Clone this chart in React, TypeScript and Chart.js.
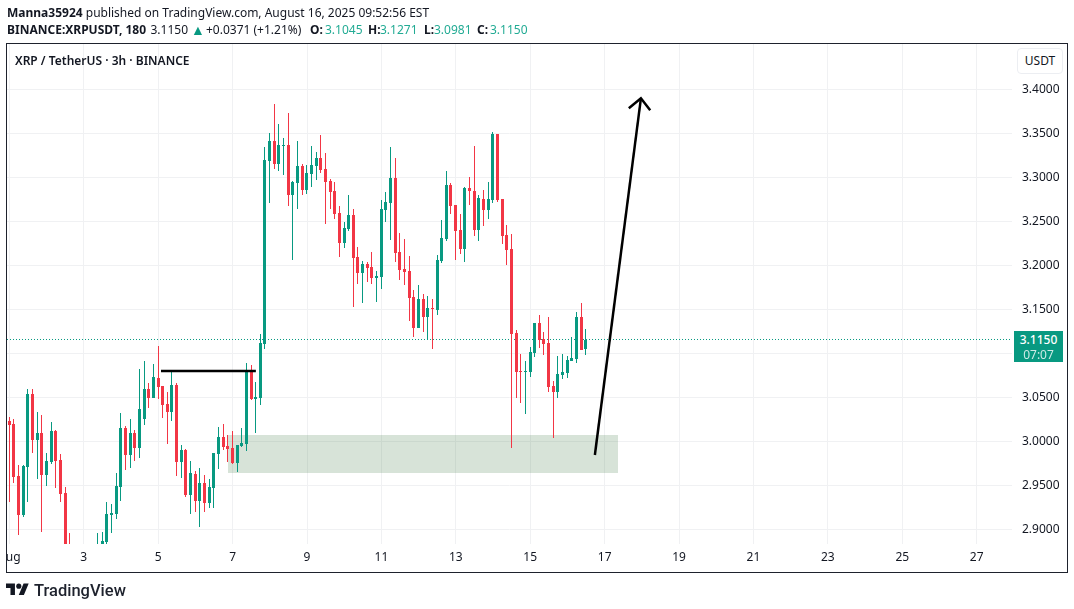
import { useEffect, useRef } from 'react'
import { Chart, registerables } from 'chart.js'

Chart.register(...registerables)

const FONT = '"Noto Sans", sans-serif'
const UP = '#089981'
const DOWN = '#F23645'

// 3h candles, index 0 is Aug 1. 14-18 sit below the visible window.
const opens = [
  3.0231, 3.0197, 2.9606, 2.9167, 2.9712, 3.0538, 3.0015, 3.0095, 2.9617, 2.9769,
  3.0117, 2.9788, 2.9413, 2.878, 2.86, 2.855, 2.86, 2.85, 2.855, 2.86,
  2.87, 2.886, 2.9163, 2.9174, 2.9481, 3.0152, 2.9844, 3.0094, 2.9928, 3.0253,
  3.0594, 3.0492, 3.0719, 3.0628, 3.0424, 3.0333, 3.064, 2.9765, 2.9901, 2.939,
  2.9628, 2.9321, 2.9526, 2.9299, 2.9469, 2.9856, 3.0049, 2.9946, 2.9924, 2.9753,
  2.9946, 2.9969, 3.0799, 3.0481, 3.0495, 3.1106, 3.3185, 3.3412, 3.3151, 3.3356,
  3.3367, 3.2799, 3.2935, 3.3128, 3.2856, 3.3037, 3.3128, 3.3219, 3.3094, 3.2958,
  3.2844, 3.2594, 3.2253, 3.2412, 3.2572, 3.2094, 3.1912, 3.2015, 3.1981, 3.1856,
  3.1867, 3.2629, 3.2708, 3.2992, 3.2151, 3.1958, 3.1935, 3.164, 3.1288, 3.1617,
  3.1412, 3.1515, 3.1492, 3.2049, 3.2299, 3.2912, 3.2685, 3.2401, 3.2185, 3.2878,
  3.2844, 3.2401, 3.2753, 3.2628, 3.2742, 3.3492, 3.2753, 3.2344, 3.2185, 3.123,
  3.0798, 3.0787, 3.0787, 3.1003, 3.1344, 3.1162, 3.1117, 3.0628, 3.056, 3.0753,
  3.0776, 3.0912, 3.0935, 3.1412, 3.1045,
]
const highs = [
  3.028, 3.0254, 2.9731, 2.9731, 3.0595, 3.0595, 3.0333, 3.0299, 2.9867, 3.022,
  3.0129, 2.9856, 2.9481, 2.8958, 2.87, 2.865, 2.87, 2.86, 2.865, 2.8958,
  2.897, 2.9311, 2.9288, 2.964, 3.0322, 3.0174, 3.0253, 3.0128, 3.0821, 3.0912,
  3.0659, 3.0878, 3.1083, 3.0628, 3.056, 3.081, 3.0662, 2.9958, 2.9912, 2.9776,
  2.9662, 2.9696, 2.9617, 2.9571, 2.9867, 3.0162, 3.0196, 3.0071, 3.0117, 2.9962,
  3.0151, 3.089, 3.0867, 3.0674, 3.1216, 3.3344, 3.3503, 3.3833, 3.3606, 3.3447,
  3.3731, 3.2958, 3.3412, 3.3151, 3.314, 3.3356, 3.3287, 3.3481, 3.3276, 3.2981,
  3.2947, 3.2674, 3.2492, 3.2799, 3.264, 3.2208, 3.2049, 3.2037, 3.2151, 3.1935,
  3.2742, 3.2833, 3.3344, 3.3219, 3.2367, 3.2299, 3.2106, 3.1719, 3.1776, 3.1674,
  3.1651, 3.1617, 3.2117, 3.2515, 3.3072, 3.2935, 3.2685, 3.2583, 3.289, 3.3003,
  3.3356, 3.2799, 3.2855, 3.2946, 3.3515, 3.3492, 3.2753, 3.2458, 3.2356, 3.1265,
  3.0992, 3.0912, 3.1071, 3.1344, 3.1435, 3.1242, 3.1412, 3.0685, 3.0969, 3.0992,
  3.0969, 3.1185, 3.1469, 3.1571, 3.1271,
]
const lows = [
  2.9314, 2.953, 2.8936, 2.9144, 2.9314, 2.9871, 2.9572, 2.8973, 2.9492, 2.9746,
  2.9473, 2.9314, 2.85, 2.85, 2.84, 2.84, 2.84, 2.835, 2.84, 2.85,
  2.86, 2.8833, 2.8958, 2.9117, 2.9322, 2.9674, 2.9693, 2.978, 2.981, 3.0185,
  3.0378, 3.0492, 3.0481, 3.0265, 2.9969, 3.0231, 2.9606, 2.9583, 2.9367, 2.9174,
  2.9196, 2.9026, 2.9196, 2.9242, 2.9242, 2.9685, 2.9901, 2.9765, 2.9742, 2.9651,
  2.9935, 2.989, 3.0469, 3.0094, 3.0413, 3.1049, 3.2708, 3.3094, 3.3072, 3.3026,
  3.2674, 3.206, 3.264, 3.2799, 3.281, 3.289, 3.2969, 3.3049, 3.2469, 3.264,
  3.2526, 3.2094, 3.2197, 3.239, 3.1526, 3.1787, 3.1571, 3.181, 3.1787, 3.1583,
  3.1731, 3.2492, 3.2287, 3.2037, 3.1833, 3.1776, 3.1367, 3.1185, 3.1288, 3.1242,
  3.1151, 3.1049, 3.1435, 3.2026, 3.2276, 3.2583, 3.206, 3.2128, 3.2037, 3.2685,
  3.2333, 3.2276, 3.2446, 3.2526, 3.2708, 3.2719, 3.2242, 3.2003, 2.9924, 3.0492,
  3.0435, 3.031, 3.073, 3.0958, 3.106, 3.0981, 3.056, 3.0037, 3.0492, 3.0708,
  3.0719, 3.0912, 3.089, 3.1037, 3.0981,
]
const closes = [
  3.0186, 2.9599, 2.9167, 2.972, 3.0538, 3.0015, 3.0095, 2.9617, 2.9777, 3.0117,
  2.9777, 2.9405, 2.865, 2.86, 2.85, 2.86, 2.85, 2.855, 2.86, 2.875,
  2.8867, 2.9174, 2.9186, 2.9492, 3.0152, 2.9845, 3.0094, 2.9928, 3.0367, 3.0594,
  3.0492, 3.0731, 3.0617, 3.0412, 3.0333, 3.064, 2.9765, 2.9901, 2.939, 2.964,
  2.9321, 2.9526, 2.9299, 2.9481, 2.9867, 3.0049, 2.9935, 2.9912, 2.9753, 2.9958,
  2.9981, 3.0799, 3.0481, 3.0503, 3.1114, 3.3197, 3.3412, 3.3151, 3.3367, 3.3367,
  3.2799, 3.2947, 3.3128, 3.2856, 3.3049, 3.314, 3.3219, 3.3083, 3.2947, 3.2833,
  3.2583, 3.2253, 3.2424, 3.2572, 3.2083, 3.1912, 3.2015, 3.1969, 3.1856, 3.1878,
  3.264, 3.2719, 3.2992, 3.214, 3.1947, 3.1924, 3.1628, 3.1288, 3.1617, 3.1412,
  3.1515, 3.1503, 3.206, 3.231, 3.2912, 3.2674, 3.239, 3.2185, 3.2878, 3.2844,
  3.2401, 3.2765, 3.2628, 3.2753, 3.3492, 3.2742, 3.2333, 3.2174, 3.1219, 3.0787,
  3.0787, 3.0798, 3.1015, 3.1344, 3.1151, 3.1106, 3.0617, 3.056, 3.0765, 3.0787,
  3.0924, 3.0946, 3.1412, 3.1037, 3.115,
]

const dayIndexes = [0, 16, 32, 48, 64, 80, 96, 112, 128, 144, 160, 176, 192, 208]
const dayLabels = ['Aug', '3', '5', '7', '9', '11', '13', '15', '17', '19', '21', '23', '25', '27']
const priceTicks = [2.9, 2.95, 3.0, 3.05, 3.1, 3.15, 3.2, 3.25, 3.3, 3.35, 3.4]

const lastPriceLine = 3.1157
const hLineX = [32.6, 53.0]
const hLineY = 3.08
const zoneX = [47, 130.9]
const zoneTop = 3.0072
const zoneBottom = 2.964
const arrowShaftX = [125.9, 135.8]
const arrowShaftY = [2.9844, 3.3898]
const arrowHeadX = [133.2, 135.8, 137.8]
const arrowHeadY = [3.3784, 3.3898, 3.3761]

const X_MIN = -0.516
const X_MAX = 215.6
const Y_MIN = 2.8833
const Y_MAX = 3.4515

const toPoints = (xs: number[], ys: number[]) => xs.map((x, i) => ({ x, y: ys[i] }))

// second header row, each piece placed where the reference has it
const quote = [
  { left: 7, text: 'BINANCE:XRPUSDT, 180', bold: true },
  { left: 150.5, text: '3.1150' },
  { left: 206, text: '+0.0371 (+1.21%)' },
  { left: 310, text: 'O:', bold: true },
  { left: 325, text: '3.1045', teal: true },
  { left: 368, text: 'H:', bold: true },
  { left: 380, text: '3.1271', teal: true },
  { left: 424, text: 'L:', bold: true },
  { left: 434, text: '3.0981', teal: true },
  { left: 477, text: 'C:', bold: true },
  { left: 490, text: '3.1150', teal: true },
]

// candles in the reference sit on whole pixels, so snap the bar elements the scales placed
const snapCandles = {
  id: 'snapCandles',
  afterDatasetsUpdate(chart: any) {
    chart.data.datasets.forEach((_: any, d: number) => {
      const meta = chart.getDatasetMeta(d)
      if (meta.type !== 'bar') return
      meta.data.forEach((el: any) => {
        el.x = Math.floor(el.x - 0.2) + 0.5
        el.y = Math.round(el.y)
        el.base = Math.round(el.base)
        if (el.y === el.base) el.base = el.y + 1
      })
    })
  },
}

export default function App() {
  const canvasRef = useRef<HTMLCanvasElement>(null)

  useEffect(() => {
    if (!canvasRef.current) return
    const colors = opens.map((o, i) => (closes[i] >= o ? UP : DOWN))
    const lineBase = { type: 'line' as const, pointRadius: 0, tension: 0, fill: false }

    const chart = new Chart(canvasRef.current, {
      type: 'bar',
      plugins: [snapCandles],
      data: {
        datasets: [
          {
            ...lineBase,
            data: toPoints(zoneX, [zoneTop, zoneTop]),
            borderWidth: 0,
            backgroundColor: 'rgba(82,135,88,0.23)',
            fill: { value: zoneBottom },
            order: 10,
          },
          {
            ...lineBase,
            data: toPoints([X_MIN, X_MAX], [lastPriceLine, lastPriceLine]),
            borderColor: UP,
            borderWidth: 1,
            borderDash: [1, 2],
            order: 9,
          },
          {
            data: opens.map((_, i) => ({ x: i, y: [lows[i], highs[i]] })),
            backgroundColor: colors,
            barThickness: 1,
            inflateAmount: 0,
            grouped: false,
            order: 5,
          },
          {
            data: opens.map((o, i) => ({ x: i, y: [o, closes[i]] })),
            backgroundColor: colors,
            barThickness: 3,
            inflateAmount: 0,
            grouped: false,
            order: 4,
          },
          {
            ...lineBase,
            data: toPoints(hLineX, [hLineY, hLineY]),
            borderColor: '#000000',
            borderWidth: 2.5,
            order: 1,
          },
          {
            ...lineBase,
            data: toPoints(arrowShaftX, arrowShaftY),
            borderColor: '#000000',
            borderWidth: 2.5,
            order: 1,
          },
          {
            ...lineBase,
            data: toPoints(arrowHeadX, arrowHeadY),
            borderColor: '#000000',
            borderWidth: 2.5,
            order: 1,
          },
        ],
      } as any,
      options: {
        responsive: false,
        animation: false,
        layout: { padding: { left: 7, top: 44, right: 7, bottom: 37 } },
        plugins: { legend: { display: false }, tooltip: { enabled: false } },
        scales: {
          x: {
            type: 'linear',
            min: X_MIN,
            max: X_MAX,
            offset: false,
            afterFit: (s: any) => {
              s.height = 28
              s.paddingLeft = 0
              s.paddingRight = 0
            },
            afterBuildTicks: (s: any) => { s.ticks = dayIndexes.map((value) => ({ value })) },
            grid: { color: '#f0f1f3', offset: false, drawTicks: false },
            border: { display: false },
            ticks: {
              autoSkip: false,
              maxRotation: 0,
              padding: 6,
              color: '#131722',
              font: { family: FONT, size: 12 },
              callback: (_v: any, i: number) => dayLabels[i],
            },
          },
          y: {
            type: 'linear',
            position: 'right',
            min: Y_MIN,
            max: Y_MAX,
            afterFit: (s: any) => {
              s.width = 55
              s.paddingTop = 0
              s.paddingBottom = 0
            },
            afterBuildTicks: (s: any) => { s.ticks = priceTicks.map((value) => ({ value })) },
            grid: { color: '#f0f1f3', drawTicks: false },
            border: { display: false },
            ticks: {
              padding: 10,
              color: '#131722',
              font: { family: FONT, size: 12 },
              callback: (v: any) => Number(v).toFixed(4),
            },
          },
        },
      },
    } as any)

    return () => { chart.destroy() }
  }, [])

  const line = { position: 'absolute' as const, left: 7, whiteSpace: 'nowrap' as const, lineHeight: '17px' }

  return (
    <div style={{ position: 'absolute', left: 0, top: 0, width: 1074, height: 609, overflow: 'hidden', background: '#fff', fontFamily: FONT, fontSize: 12, color: '#131722' }}>
      <canvas ref={canvasRef} width={1074} height={609} style={{ position: 'absolute', left: 0, top: 0 }} />
      <div style={{ position: 'absolute', left: 0, top: 545, width: 6, height: 27, background: '#fff' }} />
      <div style={{ position: 'absolute', left: 6, top: 43, width: 1062, height: 530, boxSizing: 'border-box', border: '1px solid #1e222d', pointerEvents: 'none' }} />

      <div style={{ ...line, top: 4 }}>
        <b>Manna35924</b> published on TradingView.com, August 16, 2025 09:52:56 EST
      </div>
      {quote.map((q) => (
        <div key={q.left} style={{ ...line, left: q.left, top: 21, fontWeight: q.bold ? 700 : 400, color: q.teal ? '#22ab94' : undefined }}>
          {q.text}
        </div>
      ))}
      <div style={{ ...line, left: 191, top: 21, fontSize: 14, color: UP }}>▲</div>
      <div style={{ ...line, left: 15, top: 52, fontWeight: 600 }}>XRP / TetherUS · 3h · BINANCE</div>

      <div style={{ position: 'absolute', left: 1017, top: 48, width: 46, height: 26, boxSizing: 'border-box', border: '1px solid #eceef2', borderRadius: 4, background: '#fff', textAlign: 'center', lineHeight: '24px' }}>USDT</div>

      <div style={{ position: 'absolute', left: 1014, top: 331, width: 49, height: 31, background: UP, color: '#fff', textAlign: 'center', lineHeight: '15px', paddingTop: 1, boxSizing: 'border-box' }}>
        <div style={{ fontWeight: 500 }}>3.1150</div>
        <div style={{ opacity: 0.8 }}>07:07</div>
      </div>

      <svg style={{ position: 'absolute', left: 6, top: 581 }} width={23} height={18} viewBox="0 0 36 28">
        <path fill="#131722" d="M14 22H7V11H0V4h14v18zM28 22h-8l7.5-18h8L28 22z" />
        <circle fill="#131722" cx={20} cy={8} r={4} />
      </svg>
      <div style={{ position: 'absolute', left: 34, top: 580, fontFamily: 'Roboto, sans-serif', fontSize: 16.5, fontWeight: 500, lineHeight: '22px', color: '#1e222d' }}>TradingView</div>
    </div>
  )
}
